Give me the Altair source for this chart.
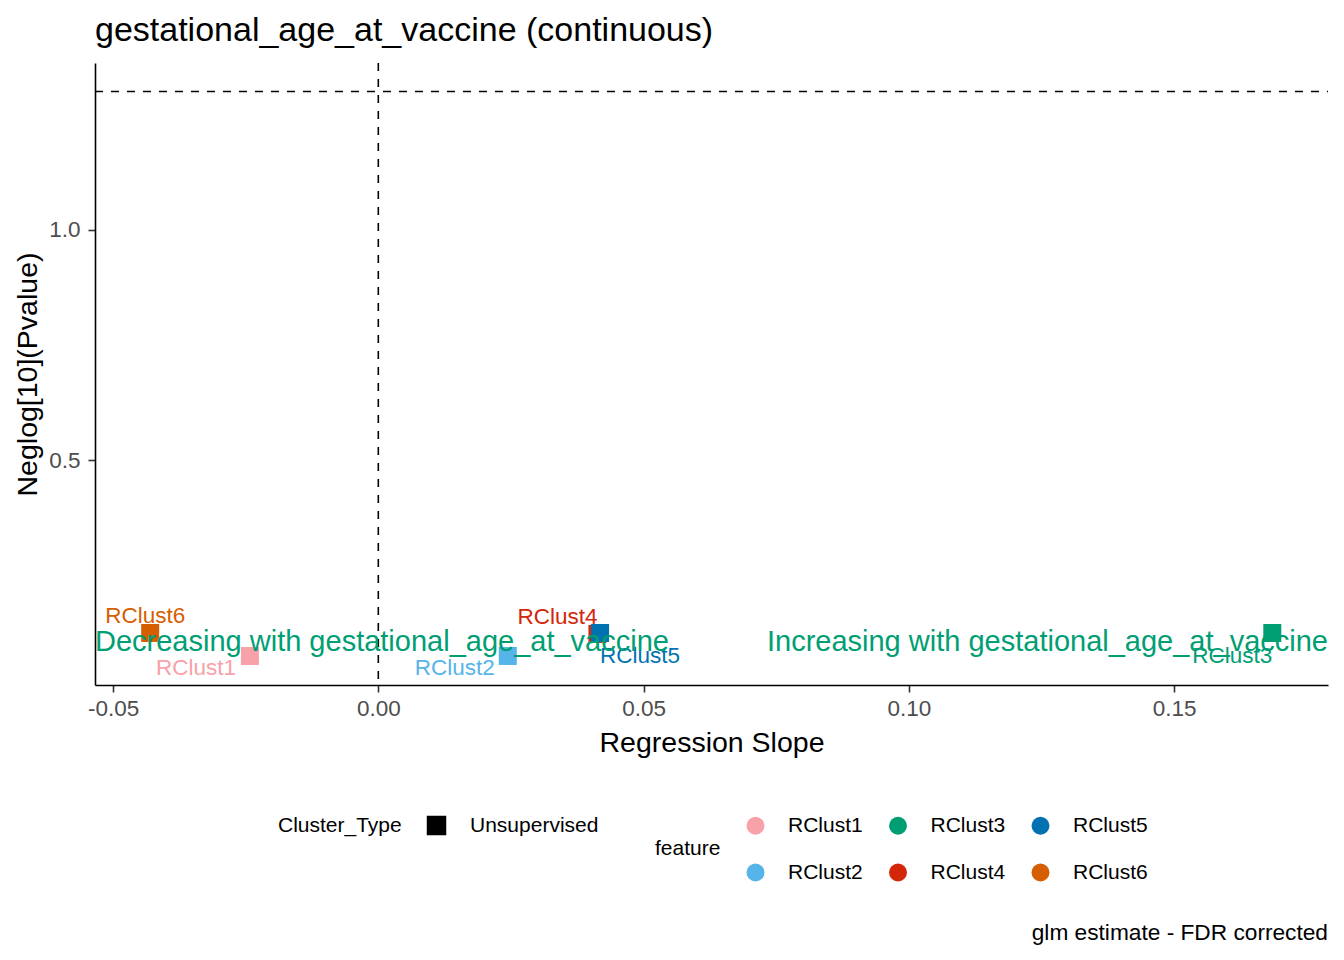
import altair as alt
import pandas as pd

# ---- data ----
features = ["RClust1", "RClust2", "RClust3", "RClust4", "RClust5", "RClust6"]
slopes = [-0.0242, 0.0244, 0.1685, 0.0413, 0.0418, -0.0430]
neglog_p = [0.074, 0.074, 0.124, 0.122, 0.124, 0.124]
cluster_type = ["Unsupervised"] * 6

legend_order = ["RClust1", "RClust3", "RClust5", "RClust2", "RClust4", "RClust6"]
palette = {
    "RClust1": "#F7A1A9",
    "RClust2": "#56B4E9",
    "RClust3": "#009E73",
    "RClust4": "#D42608",
    "RClust5": "#0072B2",
    "RClust6": "#D55E00",
}

ann_text = ["Decreasing with gestational_age_at_vaccine",
            "Increasing with gestational_age_at_vaccine"]
ann_x = [-0.0534, 0.179]
ann_y = [0.104, 0.104]
ann_align = ["left", "right"]

x_domain = [-0.0534, 0.179]
y_domain = [0.0109, 1.363]
x_ticks = [-0.05, 0.0, 0.05, 0.10, 0.15]
y_ticks = [0.5, 1.0]
vline_x = [0.0]
hline_y = [1.30103]

caption = "glm estimate - FDR corrected"
title = "gestational_age_at_vaccine (continuous)"

# ---- layout (styles only) ----
W, H = 1233, 622
FONT = "Liberation Sans"
label_offsets = {
    "RClust1": (-54, 12),
    "RClust2": (-53, 12),
    "RClust3": (-40, 23),
    "RClust4": (-40, -17),
    "RClust5": (40, 23),
    "RClust6": (-5, -17),
}

df = pd.DataFrame({
    "feature": features,
    "slope": slopes,
    "neglogp": neglog_p,
    "Cluster_Type": cluster_type,
})

xscale = alt.Scale(domain=x_domain, nice=False, zero=False)
yscale = alt.Scale(domain=y_domain, nice=False, zero=False)

x_axis = alt.Axis(
    values=x_ticks, format=".2f",
    labelExpr="replace(format(datum.value, '.2f'), '\u2212', '-')",
    title="Regression Slope", titleX=W / 2, titleY=57,
    titleBaseline="middle", titleAlign="center",
    labelPadding=5,
)
y_axis = alt.Axis(
    values=y_ticks, format=".1f",
    title="Neglog[10](Pvalue)", titleX=-68, titleY=H / 2,
    titleAngle=-90, titleBaseline="middle", titleAlign="center",
    labelPadding=8,
)

base = alt.Chart(df)

vline = alt.Chart(pd.DataFrame({"x": vline_x})).mark_rule(
    color="black", strokeDash=[8, 8], strokeWidth=1.6
).encode(x=alt.X("x:Q", scale=xscale, axis=x_axis))

hline = alt.Chart(pd.DataFrame({"y": hline_y})).mark_rule(
    color="black", strokeDash=[8, 8], strokeWidth=1.6, strokeDashOffset=7
).encode(y=alt.Y("y:Q", scale=yscale, axis=y_axis))

ann = alt.Chart(pd.DataFrame({"t": ann_text, "x": ann_x, "y": ann_y, "a": ann_align}))
ann_layers = []
for a in ann_align:
    ann_layers.append(
        ann.transform_filter(alt.datum.a == a).mark_text(
            align=a, baseline="middle", font=FONT, fontSize=29, color="#009E73"
        ).encode(
            x=alt.X("x:Q", scale=xscale, axis=x_axis),
            y=alt.Y("y:Q", scale=yscale, axis=y_axis),
            text="t:N",
        )
    )

points = base.mark_point(filled=True, size=324, opacity=1).encode(
    x=alt.X("slope:Q", scale=xscale, axis=x_axis),
    y=alt.Y("neglogp:Q", scale=yscale, axis=y_axis),
    color=alt.Color(
        "feature:N",
        scale=alt.Scale(domain=legend_order, range=[palette[f] for f in legend_order]),
        legend=alt.Legend(
            title="feature", orient="none", legendX=560, legendY=752,
            columns=3, direction="horizontal",
            symbolType="circle", symbolSize=324, symbolOpacity=1,
            titleOrient="left", titleAnchor="middle", titleBaseline="middle",
            titlePadding=24, labelOffset=22, columnPadding=24.5, rowPadding=25,
        ),
    ),
    shape=alt.Shape(
        "Cluster_Type:N",
        scale=alt.Scale(domain=["Unsupervised"], range=["square"]),
        legend=alt.Legend(
            title="Cluster_Type", orient="none", legendX=183, legendY=752,
            symbolSize=324, symbolFillColor="black", symbolStrokeColor="black",
            symbolOpacity=1,
            titleOrient="left", titleAnchor="middle", titleBaseline="middle",
            titlePadding=24, labelOffset=23,
        ),
    ),
    order=alt.Order("slope:Q", sort="ascending"),
)

label_layers = []
for f in features:
    dx, dy = label_offsets[f]
    label_layers.append(
        base.transform_filter(alt.datum.feature == f).mark_text(
            align="center", baseline="middle", font=FONT, fontSize=22.5,
            dx=dx, dy=dy, color=palette[f],
        ).encode(
            x=alt.X("slope:Q", scale=xscale, axis=x_axis),
            y=alt.Y("neglogp:Q", scale=yscale, axis=y_axis),
            text="feature:N",
        )
    )

cap = alt.Chart(pd.DataFrame({"t": [caption]})).mark_text(
    align="right", baseline="middle", font=FONT, fontSize=22.7, color="black"
).encode(x=alt.value(W), y=alt.value(870), text="t:N")

ttl = alt.Chart(pd.DataFrame({"t": [title]})).mark_text(
    align="left", baseline="alphabetic", font=FONT, fontSize=34, color="black"
).encode(x=alt.value(0), y=alt.value(-22), text="t:N")

chart = alt.layer(
    vline, hline, points, *label_layers, *ann_layers, cap, ttl
).properties(
    width=W, height=H,
    autosize=alt.AutoSizeParams(type="none"),
    padding={"left": 87, "top": 55, "right": 8, "bottom": 260},
).configure_view(stroke=None).configure_axis(
    grid=False, domainColor="black", domainWidth=1.6,
    tickColor="#333333", tickWidth=1.6, tickSize=7,
    labelColor="#4D4D4D", labelFont=FONT, labelFontSize=22.5,
    titleFont=FONT, titleFontSize=28.5, titleFontWeight="normal", titleColor="black",
).configure_legend(
    labelFont=FONT, labelFontSize=21, labelColor="black",
    titleFont=FONT, titleFontSize=21, titleFontWeight="normal", titleColor="black",
)

chart.save("out.html", embed_options={"renderer": "svg", "actions": False})
